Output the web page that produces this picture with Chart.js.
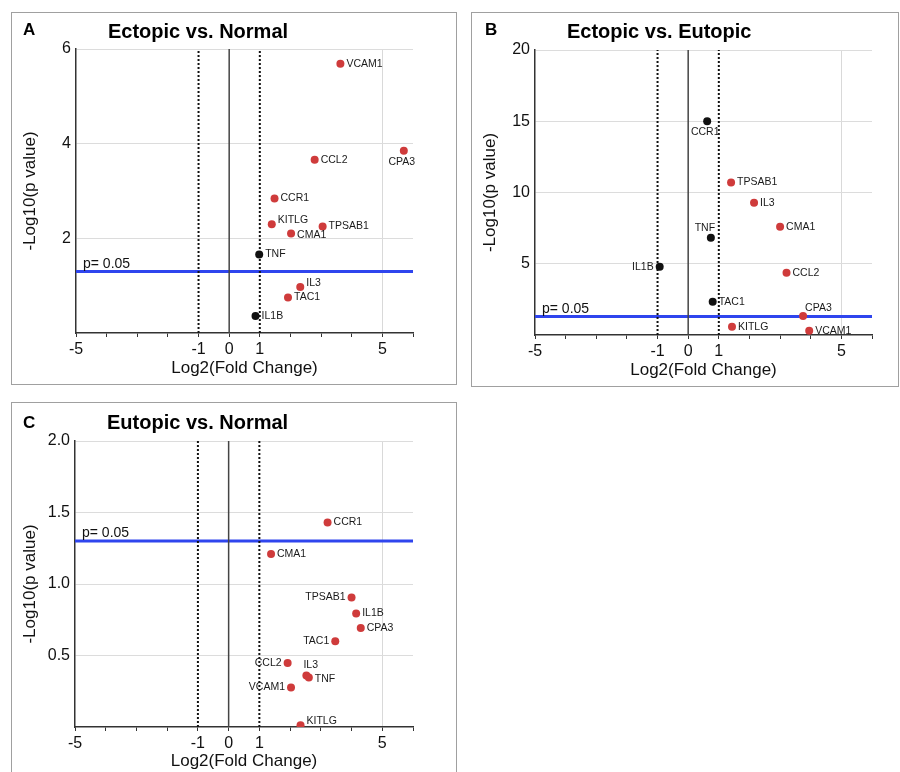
<!DOCTYPE html>
<html><head><meta charset="utf-8">
<script src="https://cdn.jsdelivr.net/npm/chart.js@4"></script>
<style>
body{margin:0;width:900px;height:772px;background:#fff;position:relative;overflow:hidden;font-family:"Liberation Sans",Arial,Helvetica,sans-serif;color:#000}
.box{position:absolute;border:1.5px solid #a0a0a0;box-sizing:border-box}
.cv{position:absolute}
.letter{position:absolute;font-weight:bold;font-size:17px;line-height:17px}
.title{position:absolute;font-weight:bold;font-size:20px;line-height:20px;white-space:nowrap}
</style></head><body>
<div class="box" style="left:11px;top:12px;width:446px;height:373px"></div>
<div class="box" style="left:471px;top:12px;width:428px;height:375px"></div>
<div class="box" style="left:11px;top:402px;width:446px;height:380px"></div>
<div class="cv" style="left:12px;top:14px;width:442px;height:370px"><canvas id="cA"></canvas></div>
<div class="cv" style="left:473px;top:14px;width:422px;height:370px"><canvas id="cB"></canvas></div>
<div class="cv" style="left:12px;top:404px;width:442px;height:368px"><canvas id="cC"></canvas></div>
<div class="letter" style="left:23px;top:21px">A</div>
<div class="title" style="left:108px;top:21px">Ectopic vs. Normal</div>
<div class="letter" style="left:485px;top:21px">B</div>
<div class="title" style="left:567px;top:21px">Ectopic vs. Eutopic</div>
<div class="letter" style="left:23px;top:414px">C</div>
<div class="title" style="left:107px;top:412px">Eutopic vs. Normal</div>
<script>
// ---- data ----
const xTickLabels = [-5, -1, 0, 1, 5];
const pThreshold = 0.05;

const genesA   = ['VCAM1','CPA3','CCL2','CCR1','KITLG','TPSAB1','CMA1','TNF','IL3','TAC1','IL1B'];
const log2fcA  = [3.63, 5.70, 2.79, 1.48, 1.39, 3.05, 2.02, 0.98, 2.32, 1.92, 0.86];
const negLogPA = [5.69, 3.85, 3.66, 2.84, 2.30, 2.25, 2.10, 1.66, 0.97, 0.75, 0.36];
const labelPosA = ['r','b','r','r','ru','r','rd','r','ru','r','r'];

const genesB   = ['CCR1','TPSAB1','IL3','CMA1','TNF','IL1B','CCL2','TAC1','CPA3','KITLG','VCAM1'];
const log2fcB  = [0.62, 1.40, 2.15, 3.00, 0.74, -0.93, 3.21, 0.80, 3.75, 1.43, 3.95];
const negLogPB = [15.0, 10.7, 9.28, 7.60, 6.83, 4.79, 4.37, 2.34, 1.33, 0.58, 0.30];
const labelPosB = ['b','r','r','r','tl','l','r','r','t','r','r'];

const genesC   = ['CCR1','CMA1','TPSAB1','IL1B','CPA3','TAC1','CCL2','IL3','TNF','VCAM1','KITLG'];
const log2fcC  = [3.22, 1.38, 4.00, 4.15, 4.30, 3.47, 1.92, 2.53, 2.61, 2.03, 2.34];
const negLogPC = [1.43, 1.21, 0.906, 0.794, 0.693, 0.60, 0.448, 0.36, 0.346, 0.276, 0.012];
const labelPosC = ['r','r','l','r','r','l','l','tr','rd','l','ru'];

// ---- styles ----
const FONT = '"Liberation Sans", Arial, Helvetica, sans-serif';
const RED = '#cf3b3b', BLACK = '#111111';
const OFF = {
  r:{a:'left',dx:6,dy:0}, l:{a:'right',dx:-6,dy:0}, b:{a:'center',dx:-2,dy:11},
  t:{a:'left',dx:2,dy:-8}, tl:{a:'center',dx:-6,dy:-10}, tr:{a:'left',dx:-3,dy:-10},
  ru:{a:'left',dx:6,dy:-4}, rd:{a:'left',dx:6,dy:2}
};

function makeChart(id, genes, fc, nlp, pos, yMax, yStep, yDec, lay) {
  const th = -Math.log10(pThreshold);
  const pts = genes.map((g, i) => ({x: fc[i], y: nlp[i]}));
  const cols = fc.map(v => Math.abs(v) > 1 ? RED : BLACK);
  const plugin = {
    id: 'genelabels_' + id,
    afterDatasetsDraw(chart) {
      const ctx = chart.ctx;
      const meta = chart.getDatasetMeta(0);
      ctx.save();
      ctx.font = '10.5px ' + FONT;
      ctx.fillStyle = '#1a1a1a';
      ctx.textBaseline = 'middle';
      meta.data.forEach((el, i) => {
        const o = OFF[pos[i]];
        ctx.textAlign = o.a;
        ctx.fillText(genes[i], el.x + o.dx, el.y + o.dy);
      });
      const yPix = chart.scales.y.getPixelForValue(th);
      ctx.font = '14px ' + FONT;
      ctx.fillStyle = '#111';
      ctx.textAlign = 'left';
      ctx.textBaseline = 'alphabetic';
      ctx.fillText('p= 0.05', chart.chartArea.left + 7, yPix - 3.5);
      ctx.restore();
    }
  };
  const lineDs = (data, color, width, dash) => ({
    data, showLine: true, borderColor: color, borderWidth: width, borderDash: dash || [],
    pointRadius: 0, pointHoverRadius: 0, order: 1, fill: false
  });
  return new Chart(document.getElementById(id), {
    type: 'scatter',
    data: {
      datasets: [
        {data: pts, backgroundColor: cols, borderColor: cols, pointRadius: 4, pointBorderWidth: 0, order: 0},
        lineDs([{x:0,y:0},{x:0,y:yMax}], '#444', 1.5),
        lineDs([{x:-1,y:0},{x:-1,y:yMax}], '#111', 2, [2,2]),
        lineDs([{x:1,y:0},{x:1,y:yMax}], '#111', 2, [2,2]),
        lineDs([{x:-5,y:th},{x:6,y:th}], '#2f45ee', 3)
      ]
    },
    options: {
      responsive: true, maintainAspectRatio: false, animation: false,
      layout: {padding: {top: lay.top, right: lay.right, bottom: 0, left: 0}},
      plugins: {legend: {display: false}, tooltip: {enabled: false}, title: {display: false}},
      scales: {
        x: {
          type: 'linear', min: -5, max: 6,
          ticks: {stepSize: 1, autoSkip: false, maxRotation: 0, padding: 3, color: '#111',
                  font: {family: FONT, size: 16},
                  callback: v => xTickLabels.includes(v) ? String(v) : ''},
          grid: {color: c => (c.tick && c.tick.value === 5) ? '#d9d9d9' : 'rgba(0,0,0,0)',
                 tickColor: '#333', tickLength: 4, lineWidth: 1},
          border: {color: '#333', width: 1.5},
          title: {display: true, text: 'Log2(Fold Change)', color: '#111',
                  font: {family: FONT, size: 17}, padding: {top: 0, bottom: lay.xtb}},
          afterFit: s => { s.height = lay.xh; }
        },
        y: {
          type: 'linear', min: 0, max: yMax,
          ticks: {stepSize: yStep, padding: 5, color: '#111', font: {family: FONT, size: 16},
                  callback: v => v === 0 ? '' : v.toFixed(yDec)},
          grid: {color: c => (c.tick && c.tick.value === 0) ? 'rgba(0,0,0,0)' : '#dcdcdc',
                 drawTicks: false, lineWidth: 1},
          border: {color: '#333', width: 1.5},
          title: {display: true, text: '-Log10(p value)', color: '#111',
                  font: {family: FONT, size: 17}, padding: {top: lay.ytp, bottom: 0}},
          afterFit: s => { s.width = lay.yw; }
        }
      }
    },
    plugins: [plugin]
  });
}

makeChart('cA', genesA, log2fcA, negLogPA, labelPosA, 6, 2, 0,
  {top: 35, right: 41, yw: 64, xh: 51, xtb: 5, ytp: 8.5});
makeChart('cB', genesB, log2fcB, negLogPB, labelPosB, 20, 5, 0,
  {top: 36, right: 23, yw: 62, xh: 49, xtb: 3, ytp: 7});
makeChart('cC', genesC, log2fcC, negLogPC, labelPosC, 2, 0.5, 1,
  {top: 37, right: 41, yw: 63, xh: 45, xtb: 0, ytp: 8.5});
</script>
</body></html>
